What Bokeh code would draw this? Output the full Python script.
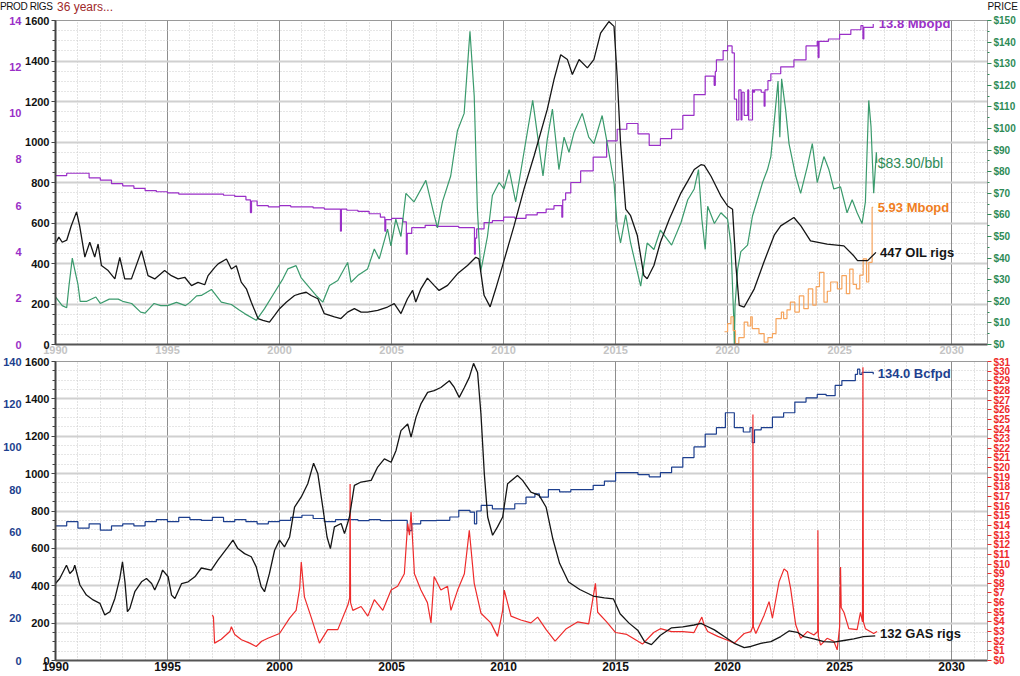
from bokeh.plotting import figure
from bokeh.models import Range1d, LinearAxis, SingleIntervalTicker, PrintfTickFormatter, Label, Div
from bokeh.layouts import column
from bokeh.embed import file_html
from bokeh.resources import INLINE

FONT = "Liberation Sans"
X_START, X_END = 1990, 2031.6

# ---------------- TOP PANEL DATA ----------------
oil_rig_years = [1990.0, 1990.15, 1990.3, 1990.5, 1990.7, 1990.94, 1991.08, 1991.31, 1991.53, 1991.75, 1991.9,
                 1992.05, 1992.35, 1992.65, 1992.87, 1993.09, 1993.39, 1993.84, 1994.13, 1994.43, 1994.87,
                 1995.17, 1995.47, 1995.77, 1996.07, 1996.36, 1996.66, 1996.81, 1997.11, 1997.26, 1997.63,
                 1997.85, 1998.07, 1998.29, 1998.52, 1998.74, 1999.04, 1999.26, 1999.55, 1999.78, 2000.0,
                 2000.3, 2000.67, 2000.89, 2001.19, 2001.41, 2001.71, 2002.0, 2002.45, 2002.74, 2003.04,
                 2003.34, 2003.64, 2003.93, 2004.38, 2004.82, 2005.12, 2005.42, 2005.71, 2005.94, 2006.08,
                 2006.31, 2006.6, 2006.9, 2007.12, 2007.5, 2007.94, 2008.39, 2008.76, 2008.9, 2009.13,
                 2009.4, 2009.65, 2010.0, 2010.47, 2010.91, 2011.36, 2011.95, 2012.25, 2012.55, 2012.85,
                 2013.07, 2013.37, 2013.74, 2014.03, 2014.33, 2014.7, 2014.93, 2015.07, 2015.22, 2015.45,
                 2015.67, 2015.97, 2016.26, 2016.41, 2016.71, 2017.0, 2017.4, 2017.92, 2018.22, 2018.51,
                 2018.81, 2018.96, 2019.26, 2019.7, 2020.0, 2020.22, 2020.37, 2020.52, 2020.74, 2021.19,
                 2021.63, 2022.08, 2022.37, 2022.96, 2023.27, 2023.7, 2024.44, 2025.19, 2025.63, 2025.8,
                 2026.25, 2026.62]
oil_rigs = [500, 530, 505, 515, 585, 655, 585, 432, 505, 432, 496,
            390, 365, 324, 430, 324, 324, 463, 340, 324, 365,
            340, 324, 332, 291, 307, 295, 340, 381, 398, 422,
            373, 389, 308, 275, 209, 128, 119, 111, 144, 177,
            209, 242, 250, 258, 242, 226, 152, 136, 128, 160,
            177, 160, 160, 168, 185, 202, 153, 226, 267, 210,
            275, 328, 292, 267, 292, 349, 390, 431, 423, 243,
            186, 275, 407, 587, 767, 931, 1161, 1308, 1431, 1407,
            1333, 1407, 1366, 1407, 1538, 1595, 1571, 1325, 997, 669,
            636, 538, 341, 325, 390, 505, 620, 749, 807, 864,
            888, 885, 831, 733, 684, 668, 389, 193, 185, 275,
            410, 540, 586, 627, 586, 512, 496, 487, 438, 414,
            414, 455]

oil_price_years = [1990.0, 1990.3, 1990.5, 1990.6, 1990.75, 1990.85, 1991.0, 1991.1, 1991.4, 1991.8, 1992.0,
                   1992.4, 1992.8, 1993.0, 1993.4, 1993.8, 1994.0, 1994.4, 1994.7, 1995.0, 1995.4, 1995.8,
                   1996.0, 1996.3, 1996.51, 1996.96, 1997.4, 1997.85, 1998.2, 1998.44, 1998.96, 1999.33,
                   1999.78, 2000.15, 2000.37, 2000.74, 2000.96, 2001.26, 2001.63, 2001.93, 2002.23, 2002.6,
                   2003.04, 2003.19, 2003.49, 2003.93, 2004.23, 2004.45, 2004.82, 2004.97, 2005.19, 2005.42,
                   2005.64, 2006.0, 2006.53, 2006.9, 2007.05, 2007.27, 2007.64, 2007.94, 2008.24, 2008.5,
                   2008.69, 2008.83, 2008.98, 2009.06, 2009.28, 2009.5, 2009.8, 2010.02, 2010.25, 2010.54,
                   2010.91, 2011.3, 2011.5, 2011.76, 2011.95, 2012.18, 2012.47, 2012.7, 2012.92, 2013.14,
                   2013.51, 2013.8, 2014.03, 2014.4, 2014.63, 2014.93, 2015.07, 2015.22, 2015.45, 2015.67,
                   2016.12, 2016.41, 2016.71, 2017.0, 2017.5, 2017.92, 2018.22, 2018.51, 2018.7, 2018.85,
                   2019.0, 2019.11, 2019.41, 2019.7, 2020.0, 2020.15, 2020.28, 2020.3, 2020.33, 2020.45,
                   2020.59, 2020.89, 2021.11, 2021.33, 2021.56, 2021.78, 2021.93, 2022.07, 2022.25, 2022.33,
                   2022.41, 2022.59, 2022.74, 2023.04, 2023.26, 2023.56, 2023.78, 2024.0, 2024.3, 2024.52,
                   2024.74, 2025.04, 2025.33, 2025.56, 2025.78, 2026.0, 2026.15, 2026.3, 2026.4, 2026.52,
                   2026.64, 2026.66]
oil_price = [22, 18, 17, 27, 40, 35, 28, 20, 20, 22, 19,
             21, 21, 20, 19, 15, 14.5, 19, 18, 18, 19.5, 18,
             19.5, 22.5, 22.7, 25.5, 19.6, 18.5, 16, 14.3, 11.2, 16.6,
             24.2, 30.4, 35, 36.5, 31, 27.3, 22.7, 19.6, 27.3, 29.6,
             38, 28.8, 31.9, 35, 44.2, 39.6, 53.4, 45.7, 58, 50,
             70, 66, 76, 60, 54, 66, 78, 99, 107, 145,
             115, 63, 34, 38, 50, 69, 75, 72, 81, 66,
             89, 113, 98, 78, 95, 109, 81, 96, 89, 98,
             107, 96, 93, 106, 93, 75, 55, 47, 60, 47,
             27, 47, 44, 53, 46, 56.5, 67, 72, 81, 58,
             44, 64, 56, 61, 58, 46, 10, 0, 18, 35,
             43, 46, 59.5, 67, 75, 81, 87, 102, 122, 96,
             123, 108.6, 93, 78, 70, 82.5, 93, 75, 87, 81,
             72, 73, 61, 67, 61, 56, 66, 113, 101, 70,
             89, 84]

oil_prod_years = [1990.0, 1990.5, 1991.0, 1991.5, 1992.0, 1992.5, 1993.0, 1993.5, 1994.0, 1994.5, 1995.0,
                  1995.5, 1996.0, 1997.0, 1997.5, 1998.0, 1998.5, 1998.7, 1998.75, 1999.0, 1999.5, 2000.0,
                  2000.5, 2001.0, 2001.5, 2002.0, 2002.72, 2002.76, 2003.0, 2003.5, 2004.0, 2004.5,
                  2004.7, 2004.74, 2005.0, 2005.5, 2005.66, 2005.7, 2005.9, 2006.5, 2007.0, 2007.5,
                  2008.0, 2008.7, 2008.74, 2008.8, 2009.13, 2009.5, 2010.0, 2010.5, 2011.0, 2011.5,
                  2011.9, 2012.25, 2012.6, 2012.64, 2012.77, 2013.0, 2013.44, 2014.0, 2014.6, 2015.07,
                  2015.5, 2016.0, 2016.5, 2017.0, 2017.5, 2018.0, 2018.5, 2019.0, 2019.4, 2019.45,
                  2019.5, 2019.8, 2020.0, 2020.2, 2020.3, 2020.4, 2020.5, 2020.6, 2020.64, 2020.74,
                  2020.9, 2020.94, 2021.11, 2021.15, 2021.2, 2021.5, 2021.63, 2021.67, 2021.8, 2021.93,
                  2022.37, 2022.96, 2023.5, 2024.0, 2024.04, 2024.08, 2024.5, 2025.0, 2025.5, 2025.95,
                  2026.04, 2026.08, 2026.5]
oil_prod = [7.3, 7.4, 7.4, 7.2, 7.1, 6.95, 6.85, 6.75, 6.65, 6.6, 6.55,
            6.5, 6.5, 6.5, 6.45, 6.4, 6.25, 5.7, 6.2, 6.0, 5.95, 6.0,
            5.95, 5.95, 5.9, 5.85, 4.9, 5.85, 5.8, 5.75, 5.65, 5.5,
            4.9, 5.4, 5.45, 5.3, 3.9, 4.8, 5.05, 5.15, 5.1, 5.1,
            5.05, 3.9, 4.6, 5.0, 5.27, 5.35, 5.5, 5.45, 5.6, 5.7,
            5.85, 6.0, 5.5, 6.25, 6.55, 7.0, 7.5, 8.1, 8.8, 9.3,
            9.55, 9.1, 8.6, 8.9, 9.3, 9.9, 10.8, 11.6, 11.2, 11.8,
            12.3, 12.7, 12.9, 12.6, 10.6, 9.7, 11.0, 9.7, 10.9, 9.9,
            11.0, 9.7, 11.0, 10.9, 11.0, 10.9, 10.3, 11.0, 11.4, 11.7,
            12.0, 12.3, 12.9, 13.1, 12.4, 13.1, 13.2, 13.4, 13.6, 13.78,
            13.2, 13.7, 13.85]

new_prod_years = [2019.86, 2020.0, 2020.15, 2020.25, 2020.35, 2020.5, 2020.74, 2020.9, 2021.03, 2021.1,
                  2021.4, 2021.63, 2021.8, 2022.0, 2022.16, 2022.4, 2022.5, 2022.65, 2022.8, 2023.0,
                  2023.2, 2023.4, 2023.6, 2023.8, 2023.95, 2024.1, 2024.3, 2024.45, 2024.6, 2024.9,
                  2025.1, 2025.3, 2025.45, 2025.6, 2025.75, 2025.9, 2026.05, 2026.2, 2026.3, 2026.45, 2026.5]
new_prod = [0.55, 0.9, 1.2, 0.6, 0.04, 0.3, 0.97, 0.8, 1.2, 0.69,
            0.47, 0.1, 0.3, 0.47, 1.12, 1.4, 1.12, 1.5, 1.83, 1.4,
            2.1, 1.55, 2.4, 1.7, 2.5, 3.12, 1.83, 2.3, 2.7, 2.4,
            2.98, 2.2, 3.26, 2.6, 2.4, 3.0, 3.7, 2.7, 3.55, 5.93, 5.93]

# ---------------- BOTTOM PANEL DATA ----------------
gas_rig_years = [1990.0, 1990.19, 1990.49, 1990.64, 1990.79, 1990.86, 1991.09, 1991.38, 1991.68, 1991.98,
                 1992.2, 1992.43, 1992.65, 1992.87, 1992.99, 1993.1, 1993.21, 1993.32, 1993.54, 1993.84,
                 1994.06, 1994.29, 1994.43, 1994.66, 1994.78, 1995.03, 1995.18, 1995.33, 1995.63, 1995.92,
                 1996.22, 1996.51, 1996.95, 1997.25, 1997.7, 1997.92, 1998.14, 1998.44, 1998.74, 1998.96,
                 1999.18, 1999.33, 1999.55, 1999.78, 2000.0, 2000.22, 2000.45, 2000.67, 2000.97, 2001.26,
                 2001.52, 2001.71, 2001.93, 2002.12, 2002.27, 2002.45, 2002.75, 2002.9, 2003.12, 2003.34,
                 2003.64, 2004.09, 2004.38, 2004.68, 2004.98, 2005.2, 2005.42, 2005.72, 2005.87, 2006.09,
                 2006.31, 2006.61, 2006.9, 2007.2, 2007.58, 2007.8, 2008.02, 2008.25, 2008.47, 2008.66,
                 2008.84, 2008.99, 2009.14, 2009.29, 2009.51, 2009.73, 2009.96, 2010.18, 2010.62, 2010.85,
                 2011.22, 2011.59, 2011.9, 2012.2, 2012.5, 2012.9, 2013.4, 2014.0, 2014.5, 2014.9,
                 2015.2, 2015.6, 2016.0, 2016.3, 2016.6, 2017.0, 2017.5, 2018.0, 2018.5, 2018.81,
                 2018.96, 2019.41, 2019.85, 2020.3, 2020.74, 2021.04, 2021.48, 2021.93, 2022.37, 2022.74,
                 2023.11, 2023.41, 2023.85, 2024.3, 2024.74, 2025.19, 2025.63, 2026.07, 2026.59]
gas_rigs = [412, 439, 510, 466, 484, 510, 404, 350, 324, 306,
            244, 261, 332, 439, 528, 421, 261, 279, 368, 421,
            439, 412, 377, 439, 484, 448, 350, 332, 412, 421,
            448, 495, 484, 537, 608, 644, 599, 572, 555, 501,
            395, 368, 466, 590, 644, 608, 661, 821, 875, 946,
            1056, 999, 821, 661, 599, 715, 733, 679, 768, 937,
            955, 964, 1035, 1079, 1061, 1124, 1230, 1266, 1195, 1301,
            1373, 1435, 1444, 1461, 1497, 1461, 1408, 1461, 1515, 1590,
            1541, 1319, 999, 768, 670, 715, 768, 946, 990, 964,
            901, 884, 820, 650, 520, 420, 380, 345, 335, 330,
            250, 200, 160, 100, 85, 135, 175, 180, 190, 199,
            190, 164, 128, 92, 69, 75, 92, 101, 128, 158,
            151, 128, 116, 101, 98, 107, 116, 128, 132]

gas_prod_years = [1990.0, 1990.5, 1991.0, 1991.5, 1992.0, 1992.5, 1993.0, 1993.5, 1994.0, 1994.5, 1995.0,
                  1995.5, 1996.0, 1996.51, 1997.0, 1997.5, 1998.0, 1998.5, 1999.0, 1999.5, 2000.0, 2000.5,
                  2001.0, 2001.5, 2002.0, 2002.5, 2003.0, 2003.5, 2004.0, 2004.5, 2005.0, 2005.7, 2005.9,
                  2006.3, 2007.0, 2007.6, 2008.0, 2008.5, 2008.7, 2008.8, 2009.0, 2009.5, 2010.0, 2010.5,
                  2011.0, 2011.4, 2011.6, 2012.0, 2012.5, 2013.0, 2013.5, 2014.0, 2014.5, 2015.0, 2015.5,
                  2016.0, 2016.5, 2017.0, 2017.5, 2018.0, 2018.5, 2019.0, 2019.5, 2019.9, 2020.3, 2020.7,
                  2021.0, 2021.1, 2021.2, 2021.5, 2022.0, 2022.5, 2023.0, 2023.5, 2024.0, 2024.4, 2024.8,
                  2025.1, 2025.5, 2025.7, 2025.8, 2025.9, 2026.0, 2026.5]
gas_prod = [63, 65, 62, 64, 61, 63, 64, 63, 65, 66, 65,
            67, 66, 65.6, 67, 65, 66, 65, 64, 65, 65.6, 67,
            68, 66.5, 65, 66, 66, 65.5, 66, 65.5, 65.6, 60.8, 64,
            65.5, 65.6, 67.2, 70.3, 69.5, 64, 70, 72.6, 71, 71, 73.4,
            76.5, 78, 76.5, 80, 79, 80, 80, 82, 84, 88, 88,
            87, 86, 88, 90.5, 95, 100, 106, 109, 116, 109, 107,
            109, 102, 108, 109, 114, 116, 121, 123, 124.6, 124, 128.8,
            131, 131, 134, 136.4, 134, 134.9, 134]

gas_price_years = [1997.0, 1997.05, 1997.1, 1997.4, 1997.78, 1997.85, 1998.0, 1998.3, 1998.67, 1998.96,
                   1999.2, 1999.48, 2000.0, 2000.45, 2000.74, 2000.9, 2000.97, 2001.11, 2001.41, 2001.78,
                   2002.15, 2002.6, 2003.05, 2003.13, 2003.15, 2003.17, 2003.27, 2003.64, 2003.94, 2004.23,
                   2004.61, 2004.98, 2005.27, 2005.57, 2005.72, 2005.8, 2005.87, 2005.95, 2006.02, 2006.31,
                   2006.6, 2006.76, 2006.9, 2007.2, 2007.5, 2007.65, 2007.95, 2008.25, 2008.47, 2008.69,
                   2008.99, 2009.43, 2009.73, 2009.96, 2010.03, 2010.33, 2010.77, 2011.22, 2011.52, 2011.9,
                   2012.3, 2012.8, 2013.3, 2013.8, 2014.1, 2014.2, 2014.6, 2015.0, 2015.5, 2016.0,
                   2016.2, 2016.7, 2017.0, 2017.5, 2018.0, 2018.5, 2018.85, 2018.95, 2019.11, 2019.56,
                   2020.0, 2020.3, 2020.74, 2021.04, 2021.12, 2021.13, 2021.15, 2021.26, 2021.63, 2021.85,
                   2022.0, 2022.3, 2022.52, 2022.67, 2022.81, 2023.04, 2023.26, 2023.56, 2023.85, 2024.02,
                   2024.03, 2024.05, 2024.15, 2024.44, 2024.74, 2024.89, 2025.0, 2025.04, 2025.07, 2025.19,
                   2025.41, 2025.78, 2025.93, 2026.02, 2026.04, 2026.06, 2026.15, 2026.52, 2026.67]
gas_price = [4.7, 4.5, 1.8, 2.2, 3.0, 3.5, 2.7, 2.15, 1.8, 1.45,
             2.0, 2.3, 2.8, 4.4, 5.2, 7.5, 10.2, 6.6, 4.5, 1.8,
             3.2, 3.2, 5.75, 6.5, 18.3, 6.0, 5.2, 5.6, 4.6, 6.3,
             5.2, 7.3, 7.7, 9.0, 14.2, 13.0, 15.4, 12.0, 9.0, 7.3,
             6.0, 3.9, 8.7, 7.3, 7.7, 5.2, 7.3, 9.0, 13.5, 8.0,
             4.9, 3.9, 2.5, 5.2, 7.3, 4.6, 4.2, 3.9, 4.5, 3.2,
             2.0, 3.3, 4.0, 3.8, 8.0, 5.0, 4.0, 2.9, 2.7, 2.0,
             1.7, 2.9, 3.3, 3.0, 3.0, 2.9, 4.5, 3.7, 3.0, 2.5,
             2.1, 1.8, 2.8, 3.0, 3.5, 25.5, 3.5, 2.8, 4.7, 6.1,
             4.4, 8.2, 9.5, 9.2, 7.5, 3.7, 2.3, 3.0, 2.65, 3.0,
             13.5, 2.5, 1.6, 2.3, 2.0, 1.1, 3.5, 9.7, 5.5, 5.0,
             3.3, 3.2, 5.0, 4.0, 30.4, 4.0, 3.3, 2.8, 3.0]

# ---------------- COLOURS ----------------
BLACK = "#151515"
PURPLE = "#9a2fc7"
GREEN = "#3a9a6c"
GREEN_TXT = "#2e8b57"
ORANGE = "#f6a45c"
ORANGE_TXT = "#ef7d22"
RED = "#ee2b2b"
NAVY = "#1d3f8e"

WIDTH = 1020
LEFT_BORDER = 48
RIGHT_BORDER = 33


def base_figure(height, top, bottom, y_max):
    p = figure(width=WIDTH, height=height, x_range=Range1d(X_START, X_END), y_range=Range1d(0, y_max),
               output_backend="svg", toolbar_location=None,
               min_border_left=LEFT_BORDER, min_border_right=RIGHT_BORDER,
               min_border_top=top, min_border_bottom=bottom)
    p.outline_line_color = "#9a9a9a"
    p.background_fill_color = "white"
    xt = SingleIntervalTicker(interval=5, num_minor_ticks=5)
    yt = SingleIntervalTicker(interval=200, num_minor_ticks=4)
    p.xaxis.ticker = xt
    p.xgrid.ticker = xt
    p.yaxis.ticker = yt
    p.ygrid.ticker = yt
    p.xgrid.grid_line_color = "#8e8e8e"
    p.xgrid.grid_line_width = 1
    p.xgrid.minor_grid_line_color = "#c6c6c6"
    p.xgrid.minor_grid_line_dash = "1 2"
    p.ygrid.grid_line_color = "#d0d0d0"
    p.ygrid.grid_line_width = 2
    p.ygrid.minor_grid_line_color = "#cdcdcd"
    p.ygrid.minor_grid_line_dash = "1 2"
    ya = p.yaxis[0]
    ya.axis_line_width = 2
    ya.axis_line_color = "#444444"
    ya.major_tick_line_color = "#444444"
    ya.minor_tick_line_color = "#444444"
    ya.major_tick_in = 0
    ya.major_tick_out = 4
    ya.minor_tick_in = 0
    ya.minor_tick_out = 3
    ya.major_label_standoff = 2
    ya.axis_label_standoff = 0
    ya.major_label_text_font = FONT
    ya.major_label_text_font_style = "bold"
    ya.major_label_text_font_size = "11px"
    ya.major_label_text_color = "#111111"
    xa = p.xaxis[0]
    xa.axis_line_width = 2
    xa.axis_line_color = "#555555"
    xa.major_tick_line_color = None
    xa.minor_tick_line_color = None
    xa.major_tick_in = 0
    xa.major_tick_out = 0
    xa.minor_tick_in = 0
    xa.minor_tick_out = 0
    xa.axis_label_standoff = 0
    xa.major_label_standoff = 1
    xa.major_label_text_font = FONT
    xa.major_label_text_font_style = "bold"
    xa.major_label_text_font_size = "12px"
    return p


def outer_left_axis(p, name, interval, color):
    ax = LinearAxis(y_range_name=name, ticker=SingleIntervalTicker(interval=interval, num_minor_ticks=0))
    ax.axis_line_color = None
    ax.major_tick_line_color = None
    ax.minor_tick_line_color = None
    ax.major_tick_in = 0
    ax.major_tick_out = 0
    ax.minor_tick_in = 0
    ax.minor_tick_out = 0
    ax.axis_label_standoff = 0
    ax.major_label_standoff = 1
    ax.major_label_text_font = FONT
    ax.major_label_text_font_style = "bold"
    ax.major_label_text_font_size = "11px"
    ax.major_label_text_color = color
    p.add_layout(ax, "left")


def right_price_axis(p, name, interval, minor, color, size):
    ax = LinearAxis(y_range_name=name, ticker=SingleIntervalTicker(interval=interval, num_minor_ticks=minor),
                    formatter=PrintfTickFormatter(format="$%d"))
    ax.axis_line_color = "#a0a0a0"
    ax.major_tick_line_color = color
    ax.minor_tick_line_color = color
    ax.major_tick_in = 0
    ax.major_tick_out = 4
    ax.minor_tick_in = 0
    ax.minor_tick_out = 2
    ax.axis_label_standoff = 0
    ax.major_label_standoff = 2
    ax.major_label_text_font = FONT
    ax.major_label_text_font_style = "bold"
    ax.major_label_text_font_size = size
    ax.major_label_text_color = color
    p.add_layout(ax, "right")


def end_label(p, x, y, text, color, rng=None, style="bold", size="13px"):
    kw = dict(x=x, y=y, text=text, text_color=color, text_font=FONT, text_font_style=style,
              text_font_size=size, text_baseline="middle", text_align="left")
    if rng:
        kw["y_range_name"] = rng
    p.add_layout(Label(**kw))


# ---------------- HEADER ----------------
HEADER_H = 14
header_html = (
    '<div style="position:relative;width:%dpx;height:%dpx;font-family:\'Liberation Sans\',Arial,sans-serif;">'
    '<span style="position:absolute;left:0px;top:0px;font-size:10px;letter-spacing:-0.4px;color:#111;">PROD RIGS</span>'
    '<span style="position:absolute;left:57px;top:-1px;font-size:12px;color:#a0282a;">36 years...</span>'
    '<span style="position:absolute;right:2px;top:0px;font-size:10px;color:#111;">PRICE</span>'
    '</div>' % (WIDTH, HEADER_H)
)
header = Div(text=header_html, width=WIDTH, height=HEADER_H, margin=(0, 0, 0, 0))

# ---------------- TOP FIGURE ----------------
p1 = base_figure(342, 6, 12, 1600)
p1.extra_y_ranges = {"prod": Range1d(0, 14), "price": Range1d(0, 150)}
p1.xaxis[0].major_label_text_color = "#c4c4c4"
p1.xaxis[0].major_label_text_font_size = "11px"
outer_left_axis(p1, "prod", 2, PURPLE)
right_price_axis(p1, "price", 10, 2, GREEN_TXT, "10px")

p1.step(oil_prod_years, oil_prod, mode="after", y_range_name="prod", line_color=PURPLE, line_width=1.2)
p1.line(oil_price_years, oil_price, y_range_name="price", line_color=GREEN, line_width=1.2)
p1.step(new_prod_years, new_prod, mode="after", y_range_name="prod", line_color=ORANGE, line_width=1.2)
p1.line(oil_rig_years, oil_rigs, line_color=BLACK, line_width=1.3)

end_label(p1, 2026.75, 13.85, "13.8 Mbopd", PURPLE, "prod")
end_label(p1, 2026.7, 84.2, "$83.90/bbl", GREEN_TXT, "price", style="normal", size="14px")
end_label(p1, 2026.7, 5.93, "5.93 Mbopd", ORANGE_TXT, "prod")
end_label(p1, 2026.8, 456, "447 OIL rigs", BLACK)

# ---------------- BOTTOM FIGURE ----------------
p2 = base_figure(320, 5, 16, 1600)
p2.extra_y_ranges = {"prod": Range1d(0, 140), "price": Range1d(0, 31)}
p2.xaxis[0].major_label_text_color = "#111111"
outer_left_axis(p2, "prod", 20, NAVY)
right_price_axis(p2, "price", 1, 0, RED, "10px")

p2.step(gas_prod_years, gas_prod, mode="after", y_range_name="prod", line_color=NAVY, line_width=1.2)
p2.line(gas_price_years, gas_price, y_range_name="price", line_color=RED, line_width=1.2)
p2.line(gas_rig_years, gas_rigs, line_color=BLACK, line_width=1.3)

end_label(p2, 2026.7, 134.4, "134.0 Bcfpd", NAVY, "prod")
end_label(p2, 2026.8, 144, "132 GAS rigs", BLACK)

layout = column(header, p1, p2, spacing=0)
open("out.html", "w").write(file_html(layout, INLINE))
